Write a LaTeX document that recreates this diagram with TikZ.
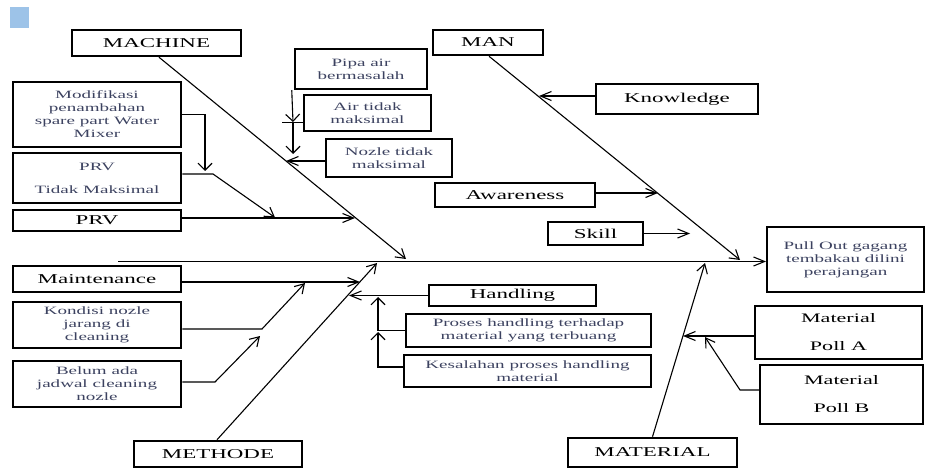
\documentclass[tikz,border=0pt]{standalone}
\usepackage{fontspec}
\setmainfont[FakeStretch=1.7]{Liberation Serif}
\usetikzlibrary{arrows.meta}
\definecolor{sqblue}{RGB}{157,195,232}
\definecolor{smalltxt}{RGB}{60,66,96}
\tikzset{
  box/.style={draw, line width=2.5pt, inner sep=0pt, align=center},
  big/.style={font=\fontsize{13.5pt}{16pt}\selectfont},
  small/.style={font=\fontsize{11.2pt}{13pt}\selectfont, text=smalltxt},
  conn/.style={line width=1.1pt},
  ah/.style={conn, -{Straight Barb[length=11pt,width=9pt]}},
  av/.style={conn, -{Straight Barb[length=7pt,width=14pt]}},
  ad/.style={conn, -{Straight Barb[length=9pt,width=11pt]}},
}
\begin{document}
\begin{tikzpicture}[x=1pt,y=-1pt]
\useasboundingbox (0,0) rectangle (926,470);
\fill[sqblue] (10,7) rectangle (29,28);

% main categories
\node[box,big,minimum width=169pt,minimum height=26pt] (machine) at (156.5,43) {MACHINE};
\node[box,big,minimum width=110pt,minimum height=25pt] (man) at (488,42.5) {MAN};
\node[box,big,minimum width=168pt,minimum height=26pt] (methode) at (218,454) {METHODE};
\node[box,big,minimum width=169pt,minimum height=29pt] (material) at (652.5,452.5) {MATERIAL};
\node[box,small,line width=2pt,minimum width=157pt,minimum height=65pt] (effect) at (845.5,259.5) {Pull Out gagang\\tembakau dilini\\perajangan};

% machine causes
\node[box,small,minimum width=168pt,minimum height=65pt] (modif) at (97,114.5) {Modifikasi\\penambahan\\spare part Water\\Mixer};
\node[box,small,minimum width=168pt,minimum height=50pt] (prvtm) at (97,178) {PRV\\[10pt]Tidak Maksimal};
\node[box,big,minimum width=168pt,minimum height=21pt] (prv) at (97,220.5) {PRV};
\node[box,small,minimum width=132pt,minimum height=40pt] (pipa) at (361,69) {Pipa air\\bermasalah};
\node[box,small,minimum width=127pt,minimum height=36pt] (air) at (367.5,113) {Air tidak\\maksimal};
\node[box,small,minimum width=126pt,minimum height=38pt] (nozle) at (389,158) {Nozle tidak\\maksimal};

% man causes
\node[box,big,minimum width=162pt,minimum height=30pt] (know) at (677,99) {Knowledge};
\node[box,big,minimum width=160pt,minimum height=24pt] (aware) at (515,195) {Awareness};
\node[box,big,minimum width=95pt,minimum height=23pt] (skill) at (595.5,233.5) {Skill};

% methode causes
\node[box,big,minimum width=168pt,minimum height=26pt] (maint) at (97,279) {Maintenance};
\node[box,small,minimum width=168pt,minimum height=46pt] (kond) at (97,325) {Kondisi nozle\\jarang di\\cleaning};
\node[box,small,minimum width=168pt,minimum height=46pt] (belum) at (97,384) {Belum ada\\jadwal cleaning\\nozle};
\node[box,big,minimum width=167pt,minimum height=21pt] (handl) at (512.5,295.5) {Handling};
\node[box,small,minimum width=245pt,minimum height=33pt] (proses) at (528.5,330.5) {Proses handling terhadap\\material yang terbuang};
\node[box,small,minimum width=247pt,minimum height=32pt] (kesal) at (527.5,371) {Kesalahan proses handling\\material};

% material causes
\node[box,font=\fontsize{13pt}{15pt}\selectfont,minimum width=167pt,minimum height=53pt] (pollA) at (838.5,332.5) {Material\\[13pt]Poll A};
\node[box,font=\fontsize{13pt}{15pt}\selectfont,minimum width=163pt,minimum height=59pt] (pollB) at (841.5,394.5) {Material\\[13pt]Poll B};

% spine
\coordinate (tail) at (118,261.5);
\draw[ah] (tail) -- (tail -| effect.west);

% main bones
\coordinate (jM) at (406,259);
\coordinate (jN) at (740,260);
\coordinate (jT) at (377,263);
\coordinate (jL) at (705,263);
\draw[ad] ([xshift=2.5pt]machine.south) -- (jM);
\draw[ad] ([xshift=1pt]man.south) -- (jN);
\draw[ad] ([xshift=-1pt]methode.north) -- (jT);
\draw[ad] (material.north) -- (jL);

% machine sub-arrows
\coordinate (tNoz) at (286,161);
\coordinate (tPrv) at (355,218);
\coordinate (mt) at (205,171);
\coordinate (bend1) at (213,174);
\coordinate (pt) at (275,217.5);
\coordinate (vA) at (293,122);
\coordinate (vB) at (293,154);
\draw[ah] ([yshift=-3pt]nozle.west) -- (tNoz);
\draw[ah] ([yshift=2.5pt]prv.east) -- (tPrv);
\draw[av] (modif.east) -| (mt);
\draw[ad] ([yshift=4pt]prvtm.east) -- (bend1) -- (pt);
\draw[av] ([xshift=-2pt]pipa.south west) -- (vA);
\draw[av] (vA) -- (vB);
\draw[conn] ([yshift=-9.5pt]air.west) -- ++(-21,0);

% man sub-arrows
\coordinate (tKn) at (539,96);
\coordinate (tAw) at (658,193);
\coordinate (tSk) at (690,233.5);
\draw[ah] ([yshift=3pt]know.west) -- (tKn);
\draw[ah] ([yshift=2pt]aware.east) -- (tAw);
\draw[ah] (skill.east) -- (tSk);

% methode sub-arrows
\coordinate (tMa) at (360,282);
\coordinate (bend2) at (262,329);
\coordinate (tKo) at (305,283);
\coordinate (bend3) at (215,382);
\coordinate (tBe) at (260,336);
\coordinate (tHa) at (349,295.5);
\coordinate (bend4) at (378,330.5);
\coordinate (tPr) at (378,297);
\coordinate (bend5) at (378,367);
\coordinate (tKe) at (378,332);
\draw[ah] ([yshift=-3pt]maint.east) -- (tMa);
\draw[ad] ([yshift=-4pt]kond.east) -- (bend2) -- (tKo);
\draw[ad] ([yshift=2pt]belum.east) -- (bend3) -- (tBe);
\draw[ah] (handl.west) -- (tHa);
\draw[av] (proses.west) -- (bend4) -- (tPr);
\draw[av] ([yshift=4pt]kesal.west) -- (bend5) -- (tKe);

% material sub-arrows
\coordinate (tPA) at (683,336);
\coordinate (bend6) at (740,390);
\coordinate (tPB) at (705,337);
\draw[ah] ([yshift=-3.5pt]pollA.west) -- (tPA);
\draw[ad] ([yshift=4.5pt]pollB.west) -- (bend6) -- (tPB);
\end{tikzpicture}
\end{document}
